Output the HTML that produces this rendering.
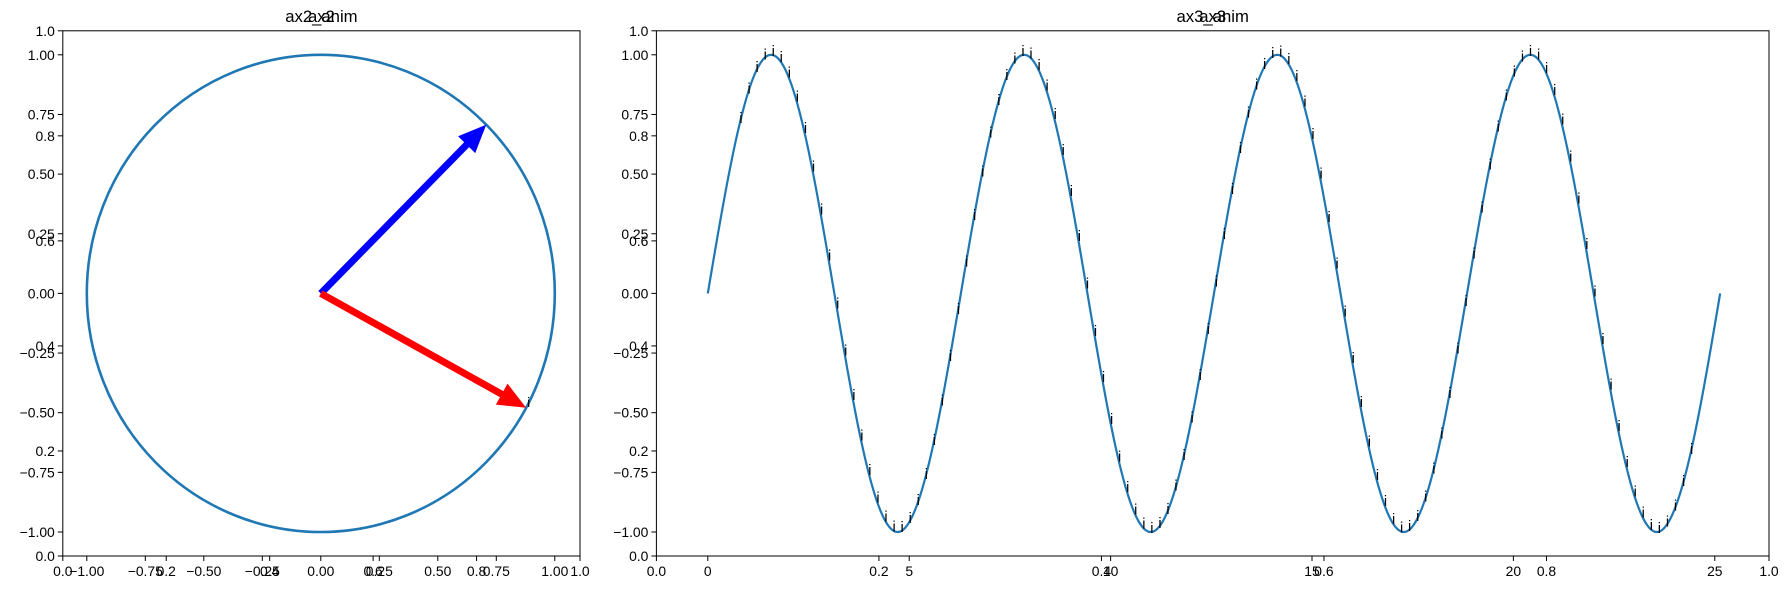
<!DOCTYPE html>
<html><head><meta charset="utf-8"><style>
body{margin:0;background:#fff}
svg text{font-family:"Liberation Sans","DejaVu Sans",sans-serif;fill:#000}
</style></head><body>
<svg id="fig" width="1790" height="590" xmlns="http://www.w3.org/2000/svg">
<rect width="1790" height="590" fill="#fff"/>
<g id="left"></g>
<g id="right"></g>
</svg>
<script>
const yDataTicks=[-1,-0.75,-0.5,-0.25,0,0.25,0.5,0.75,1];
const yDataLabels=["\u22121.00","\u22120.75","\u22120.50","\u22120.25","0.00","0.25","0.50","0.75","1.00"];
const unitTicks=[0,0.2,0.4,0.6,0.8,1];
const unitLabels=["0.0","0.2","0.4","0.6","0.8","1.0"];
const leftXTicks=[-1,-0.75,-0.5,-0.25,0,0.25,0.5,0.75,1];
const leftXLabels=["\u22121.00","\u22120.75","\u22120.50","\u22120.25","0.00","0.25","0.50","0.75","1.00"];
const rightXTicks=[0,5,10,15,20,25];
const rightXLabels=["0","5","10","15","20","25"];
const arrowAngles=[Math.PI/4,-0.5];
const arrowColors=["#0000ff","#ff0000"];
const sineXMax=8*Math.PI;
const labelStart=0.8, labelEnd=24.4, labelStep=0.2;

const NS="http://www.w3.org/2000/svg";
function mk(p,tag,a){const e=document.createElementNS(NS,tag);for(const k in a)e.setAttribute(k,a[k]);p.appendChild(e);return e;}
function txt(p,x,y,s,anchor,size,name){const t=mk(p,'text',{x:x,y:y,'text-anchor':anchor,'font-size':size});t.textContent=s;


return t;}

function panel(g,X0,X1,Y0,Y1,xs,ys,xt,xl,title,title2){
  const f=mk(g,'rect',{x:X0,y:Y0,width:X1-X0,height:Y1-Y0,fill:'none',stroke:'#000','stroke-width':1});
  
  
  const ux=v=>X0+v*(X1-X0), uy=v=>Y1-v*(Y1-Y0);
  unitTicks.forEach((v,i)=>{
    mk(g,'line',{x1:ux(v),x2:ux(v),y1:Y1,y2:Y1+5,stroke:'#000'});
    txt(g,ux(v),Y1+20,unitLabels[i],'middle',13.9,'x-tick-label');
    mk(g,'line',{x1:X0-5,x2:X0,y1:uy(v),y2:uy(v),stroke:'#000'});
    txt(g,X0-8,uy(v)+5,unitLabels[i],'end',13.9,'y-tick-label');
  });
  yDataTicks.forEach((v,i)=>{
    mk(g,'line',{x1:X0-5,x2:X0,y1:ys(v),y2:ys(v),stroke:'#000'});
    txt(g,X0-8,ys(v)+5,yDataLabels[i],'end',13.9,'y-tick-label');
  });
  xt.forEach((v,i)=>{
    mk(g,'line',{x1:xs(v),x2:xs(v),y1:Y1,y2:Y1+5,stroke:'#000'});
    txt(g,xs(v),Y1+20,xl[i],'middle',13.9,'x-tick-label');
  });
  const cx=(X0+X1)/2;
  txt(g,cx,Y0-9,title,'middle',16.7,'axes-title');
  txt(g,cx,Y0-9,title2,'middle',16.7,'axes-title-anim');
}

const L={X0:62.8,X1:580,Y0:30.8,Y1:556};
const lx=v=>320.8+v*234, ly=v=>293.4-v*238.6;
const gl=document.getElementById('left');
panel(gl,L.X0,L.X1,L.Y0,L.Y1,lx,ly,leftXTicks,leftXLabels,'ax2','ax2_anim');
const circ=mk(gl,'ellipse',{cx:lx(0),cy:ly(0),rx:234,ry:238.6,fill:'none',stroke:'#1f77b4','stroke-width':2.6});


arrowAngles.forEach((a,i)=>{
  const tx=lx(Math.cos(a)),ty=ly(Math.sin(a)),ox=lx(0),oy=ly(0);
  const dx=tx-ox,dy=ty-oy,L2=Math.hypot(dx,dy),ux=dx/L2,uy=dy/L2,nx=-uy,ny=ux;
  const hl=28,hw=12,sw=3.5;
  const bx=tx-ux*hl,by=ty-uy*hl;
  const pts=[[ox+nx*sw,oy+ny*sw],[bx+nx*sw,by+ny*sw],[bx+nx*hw,by+ny*hw],[tx,ty],[bx-nx*hw,by-ny*hw],[bx-nx*sw,by-ny*sw],[ox-nx*sw,oy-ny*sw]];
  const p=mk(gl,'polygon',{points:pts.map(q=>q.join(',')).join(' '),fill:arrowColors[i]});
  
  
});
txt(gl,lx(Math.cos(-0.5))+1,ly(Math.sin(-0.5))-1,'i','start',13.9,'point-label');

const R={X0:656.4,X1:1769,Y0:30.8,Y1:556};
const rx=v=>707.8+v*40.28, ry=ly;
const gr=document.getElementById('right');
panel(gr,R.X0,R.X1,R.Y0,R.Y1,rx,ry,rightXTicks,rightXLabels,'ax3','ax3_anim');
let d='';
for(let k=0;k<=800;k++){const t=sineXMax*k/800;d+=(k?'L':'M')+rx(t).toFixed(2)+','+ry(Math.sin(t)).toFixed(2);}
const sp=mk(gr,'path',{d:d,fill:'none',stroke:'#1f77b4','stroke-width':2.2});


for(let t=labelStart;t<=labelEnd+1e-9;t+=labelStep){
  txt(gr,rx(t)+1,ry(Math.sin(t))+1,'i','middle',14.5,'point-label').setAttribute('fill','#222');
}
</script>
</body></html>
